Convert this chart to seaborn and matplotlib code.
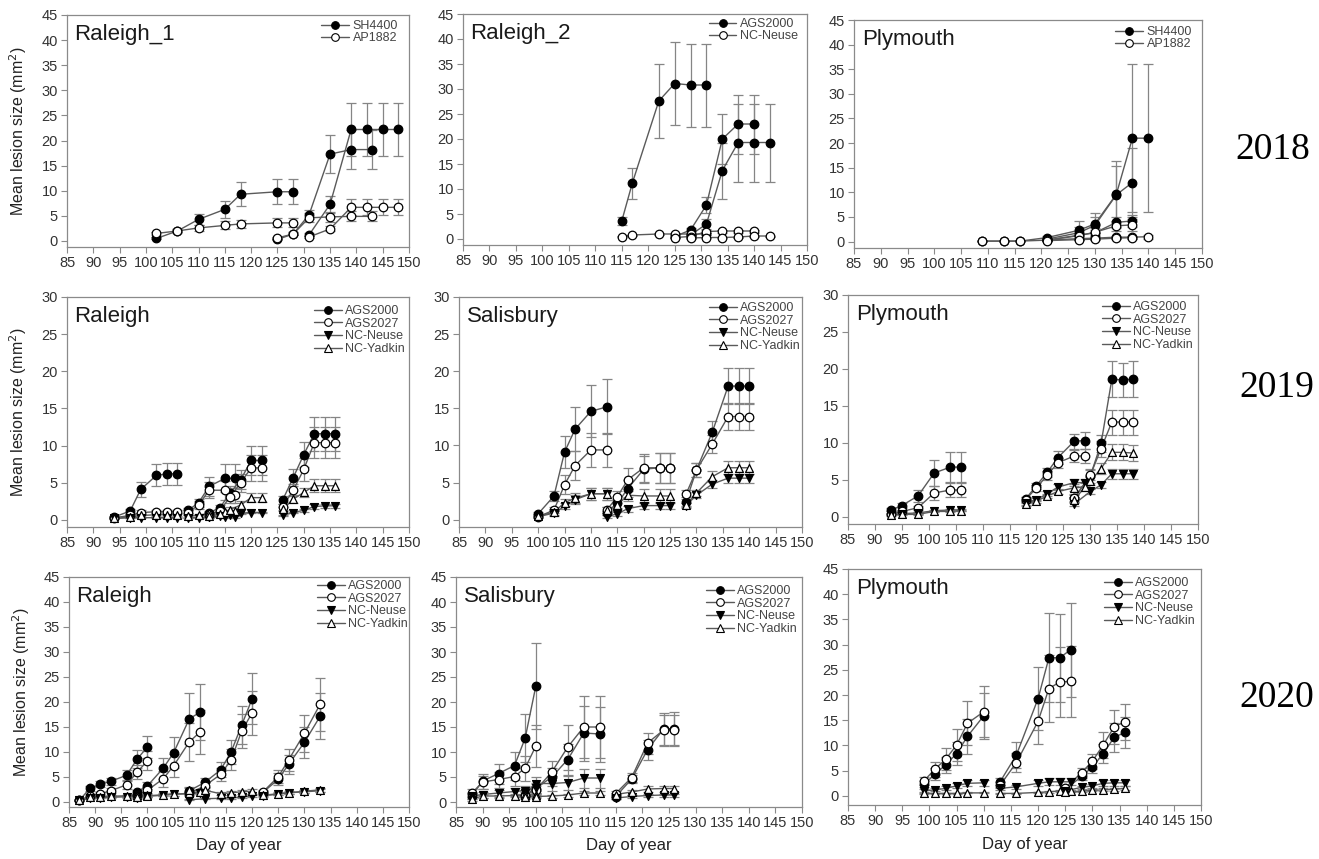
import matplotlib
matplotlib.use("Agg")
import numpy as np
import pandas as pd
import matplotlib.pyplot as plt
import seaborn as sns
from matplotlib.lines import Line2D

sns.set_theme(style="white")
plt.rcParams["font.family"] = ["Liberation Sans", "DejaVu Sans"]

# ---------------- DATA (each list holds one list per curve segment) ----------------
# 2018 Raleigh_1
r1_days = [[102, 106, 110, 115, 118, 125, 128], [125, 128, 131, 135, 139, 143], [131, 135, 139, 142, 145, 148]]
r1_sh4400 = [[0.5, 2.0, 4.3, 6.3, 9.3, 9.8, 9.8], [0.3, 1.4, 5.2, 17.3, 18.2, 18.2], [1.2, 7.3, 22.2, 22.2, 22.2, 22.2]]
r1_sh4400_se = [[0.2, 0.3, 1.1, 1.7, 2.4, 2.5, 2.5], [0.1, 0.3, 0.9, 3.8, 3.9, 3.9], [0.3, 1.7, 5.2, 5.2, 5.2, 5.2]]
r1_ap1882 = [[1.5, 2.0, 2.6, 3.1, 3.4, 3.6, 3.6], [0.6, 1.4, 4.6, 4.8, 4.9, 4.9], [0.8, 2.4, 6.7, 6.7, 6.7, 6.7]]
r1_ap1882_se = [[0.3, 0.4, 0.6, 0.8, 0.8, 0.9, 0.9], [0.2, 0.3, 0.9, 1.0, 1.0, 1.0], [0.2, 0.5, 1.6, 1.6, 1.6, 1.6]]

# 2018 Raleigh_2
r2_days = [[115, 117, 122, 125, 128, 131], [125, 128, 131, 134, 137, 140], [128, 131, 134, 137, 140, 143]]
r2_ags2000 = [[3.6, 11.2, 27.6, 31.1, 30.8, 30.8], [0.5, 1.8, 6.8, 20.0, 23.0, 23.0], [0.8, 3.0, 13.7, 19.3, 19.3, 19.3]]
r2_ags2000_se = [[0.8, 3.1, 7.4, 8.3, 8.3, 8.3], [0.2, 0.4, 1.6, 5.0, 5.9, 5.9], [0.2, 1.0, 5.6, 7.8, 7.8, 7.8]]
r2_neuse = [[0.5, 0.8, 1.0, 1.0, 1.0, 1.0], [0.3, 0.5, 1.5, 1.6, 1.6, 1.6], [0.2, 0.3, 0.3, 0.4, 0.6, 0.6]]
r2_neuse_se = [[0.1, 0.1, 0.2, 0.2, 0.2, 0.2], [0.1, 0.1, 0.3, 0.3, 0.3, 0.3], [0.1, 0.1, 0.1, 0.1, 0.1, 0.1]]

# 2018 Plymouth
p18_days = [[109, 113, 116, 121, 127, 130, 134, 137, 140], [121, 127, 130, 134, 137], [121, 127, 130, 134, 137]]
p18_sh4400 = [[0.1, 0.1, 0.1, 0.8, 2.3, 3.6, 9.6, 21.0, 21.0], [0.5, 1.8, 3.3, 9.5, 12.0], [0.3, 1.3, 1.8, 3.9, 4.2]]
p18_sh4400_se = [[0.05, 0.05, 0.05, 0.4, 1.8, 2.2, 6.8, 15.0, 15.0], [0.3, 1.2, 1.6, 5.9, 7.0], [0.1, 0.5, 0.6, 1.0, 1.2]]
p18_ap1882 = [[0.1, 0.1, 0.1, 0.3, 0.6, 0.7, 0.9, 0.9, 1.0], [0.3, 1.2, 1.9, 3.2, 3.4], [0.2, 0.4, 0.5, 0.7, 0.8]]
p18_ap1882_se = [[0.05, 0.05, 0.05, 0.1, 0.2, 0.3, 0.3, 0.3, 0.4], [0.1, 0.5, 0.8, 1.0, 1.2], [0.1, 0.1, 0.2, 0.2, 0.2]]

# 2019 Raleigh
r19_days = [[94, 97, 99, 102, 104, 106], [108, 110, 112, 115, 117], [112, 114, 116, 118, 120, 122], [126, 128, 130, 132, 134, 136]]
r19_ags2000 = [[0.4, 1.2, 4.1, 6.0, 6.2, 6.2], [1.3, 2.3, 4.5, 5.6, 5.6], [1.0, 1.6, 3.6, 5.4, 8.0, 8.0], [2.7, 5.7, 8.8, 11.6, 11.6, 11.6]]
r19_ags2000_se = [[0.1, 0.3, 1.0, 1.5, 1.5, 1.5], [0.3, 0.5, 1.3, 1.9, 1.9], [0.2, 0.4, 0.9, 1.3, 1.9, 1.9], [0.5, 1.1, 1.7, 2.3, 2.3, 2.3]]
r19_ags2027 = [[0.3, 0.6, 1.0, 1.1, 1.1, 1.1], [1.0, 2.0, 4.0, 4.0, 3.3], [0.7, 1.2, 3.1, 5.0, 7.0, 7.0], [1.8, 4.0, 6.8, 10.4, 10.4, 10.4]]
r19_ags2027_se = [[0.1, 0.2, 0.3, 0.3, 0.3, 0.3], [0.3, 0.5, 1.1, 1.3, 1.0], [0.2, 0.3, 0.8, 1.2, 1.7, 1.7], [0.4, 0.8, 1.5, 2.1, 2.1, 2.1]]
r19_neuse = [[0.2, 0.3, 0.3, 0.3, 0.3, 0.3], [0.3, 0.3, 0.4, 0.4, 0.4], [0.4, 0.5, 0.6, 0.9, 1.0, 1.0], [0.6, 1.0, 1.3, 1.8, 1.9, 1.9]]
r19_neuse_se = [[0.1, 0.1, 0.1, 0.1, 0.1, 0.1], [0.1, 0.1, 0.1, 0.1, 0.1], [0.1, 0.1, 0.1, 0.1, 0.1, 0.1], [0.1, 0.1, 0.2, 0.3, 0.3, 0.3]]
r19_yadkin = [[0.2, 0.4, 0.6, 0.7, 0.7, 0.7], [0.5, 0.6, 0.9, 1.1, 1.2], [0.5, 0.8, 1.4, 2.0, 3.0, 3.0], [1.5, 2.8, 3.7, 4.6, 4.6, 4.6]]
r19_yadkin_se = [[0.1, 0.1, 0.2, 0.2, 0.2, 0.2], [0.2, 0.2, 0.2, 0.2, 0.2], [0.1, 0.2, 0.4, 0.5, 0.6, 0.6], [0.3, 0.5, 0.6, 0.9, 0.9, 0.9]]

# 2019 Salisbury
s19_days = [[100, 103, 105, 107, 110, 113], [113, 115, 117, 120, 123, 125], [128, 130, 133, 136, 138, 140]]
s19_ags2000 = [[0.8, 3.2, 9.1, 12.2, 14.6, 15.2], [0.9, 2.2, 4.2, 6.8, 7.0, 7.0], [2.4, 6.7, 11.8, 18.0, 18.0, 18.0]]
s19_ags2000_se = [[0.2, 0.7, 2.2, 3.0, 3.5, 3.7], [0.3, 0.6, 1.1, 1.8, 2.0, 2.0], [0.6, 0.9, 1.5, 2.4, 2.4, 2.4]]
s19_ags2027 = [[0.4, 1.3, 4.7, 7.3, 9.4, 9.4], [1.3, 3.1, 5.4, 7.0, 7.0, 7.0], [3.4, 6.7, 10.2, 13.9, 13.9, 13.9]]
s19_ags2027_se = [[0.1, 0.4, 1.3, 1.9, 2.3, 2.3], [0.4, 0.8, 1.5, 1.9, 2.0, 2.0], [0.6, 0.9, 1.2, 1.8, 1.8, 1.8]]
s19_neuse = [[0.4, 0.9, 1.8, 2.7, 3.5, 3.5], [0.4, 0.8, 1.5, 1.9, 1.9, 1.9], [1.9, 3.3, 4.8, 5.6, 5.6, 5.6]]
s19_neuse_se = [[0.1, 0.3, 0.4, 0.6, 0.8, 0.8], [0.2, 0.3, 0.4, 0.5, 0.5, 0.5], [0.3, 0.4, 0.5, 0.6, 0.6, 0.6]]
s19_yadkin = [[0.5, 1.0, 2.3, 2.9, 3.5, 3.5], [1.3, 2.0, 3.3, 3.2, 3.2, 3.2], [2.0, 3.6, 5.8, 7.0, 7.0, 7.0]]
s19_yadkin_se = [[0.3, 0.5, 0.5, 0.7, 0.8, 0.8], [0.4, 0.6, 0.8, 0.9, 0.9, 0.9], [0.3, 0.4, 0.7, 0.9, 0.9, 0.9]]

# 2019 Plymouth
p19_days = [[93, 95, 98, 101, 104, 106], [118, 120, 122, 124, 127, 129], [127, 130, 132, 134, 136, 138]]
p19_ags2000 = [[0.9, 1.5, 2.8, 5.9, 6.7, 6.7], [2.4, 4.2, 6.0, 8.0, 10.2, 10.3], [2.5, 5.5, 9.9, 18.6, 18.5, 18.6]]
p19_ags2000_se = [[0.2, 0.3, 0.8, 1.7, 2.0, 2.0], [0.3, 0.4, 0.6, 0.9, 1.0, 1.1], [0.5, 0.9, 1.2, 2.4, 2.3, 2.4]]
p19_ags2027 = [[0.4, 0.7, 1.2, 3.2, 3.6, 3.6], [2.3, 3.9, 5.6, 7.3, 8.2, 8.2], [2.5, 5.6, 9.2, 12.8, 12.8, 12.8]]
p19_ags2027_se = [[0.1, 0.2, 0.3, 0.9, 1.0, 1.0], [0.3, 0.4, 0.6, 0.7, 0.8, 0.9], [0.4, 0.7, 1.1, 1.7, 1.7, 1.7]]
p19_neuse = [[0.3, 0.4, 0.5, 0.8, 0.9, 0.9], [1.8, 2.3, 3.1, 4.0, 4.6, 4.6], [1.7, 3.4, 4.3, 5.8, 5.8, 5.8]]
p19_neuse_se = [[0.1, 0.1, 0.1, 0.1, 0.1, 0.1], [0.2, 0.2, 0.3, 0.4, 0.5, 0.5], [0.2, 0.3, 0.4, 0.7, 0.7, 0.7]]
p19_yadkin = [[0.2, 0.3, 0.3, 0.7, 0.7, 0.8], [1.7, 2.1, 2.8, 3.4, 3.9, 4.0], [2.3, 4.8, 6.5, 8.7, 8.7, 8.6]]
p19_yadkin_se = [[0.1, 0.1, 0.1, 0.1, 0.1, 0.1], [0.2, 0.2, 0.3, 0.4, 0.5, 0.5], [0.3, 0.5, 0.7, 1.1, 1.1, 1.1]]

# 2020 Raleigh
r20_days = [[87, 89, 91, 93, 96, 98, 100], [98, 100, 103, 105, 108, 110], [108, 111, 114, 116, 118, 120], [122, 125, 127, 130, 133]]
r20_ags2000 = [[0.3, 2.7, 3.5, 4.1, 5.3, 8.5, 11.0], [2.0, 3.2, 6.7, 9.8, 16.6, 17.9], [2.2, 3.9, 6.4, 10.0, 15.3, 20.6], [1.8, 4.5, 7.5, 11.9, 17.1]]
r20_ags2000_se = [[0.1, 0.5, 0.6, 0.7, 1.0, 1.8, 2.2], [0.4, 0.7, 2.1, 3.1, 5.1, 5.6], [0.6, 0.9, 1.5, 2.4, 3.8, 5.1], [0.4, 1.2, 1.9, 3.1, 4.6]]
r20_ags2027 = [[0.3, 1.2, 1.6, 2.2, 3.4, 5.9, 8.2], [1.3, 2.3, 4.6, 7.2, 12.0, 13.9], [1.7, 3.2, 5.5, 8.4, 14.1, 17.8], [1.9, 5.0, 8.4, 13.7, 19.5]]
r20_ags2027_se = [[0.1, 0.3, 0.4, 0.5, 0.8, 1.4, 1.9], [0.3, 0.6, 1.6, 2.3, 3.8, 4.4], [0.5, 0.8, 1.3, 2.1, 3.4, 4.4], [0.4, 1.3, 2.2, 3.7, 5.3]]
r20_neuse = [[0.3, 0.7, 0.8, 0.9, 1.0, 1.1, 1.2], [0.8, 1.1, 1.3, 1.5, 1.6, 1.8], [0.4, 0.6, 0.7, 0.8, 0.9, 1.2], [1.2, 1.5, 1.8, 2.0, 2.2]]
r20_neuse_se = [[0.1, 0.1, 0.1, 0.2, 0.2, 0.2, 0.2], [0.2, 0.2, 0.2, 0.3, 0.3, 0.3], [0.1, 0.1, 0.1, 0.2, 0.2, 0.2], [0.2, 0.2, 0.2, 0.3, 0.3]]
r20_yadkin = [[0.3, 0.9, 1.0, 1.1, 1.2, 1.3, 1.3], [0.9, 1.2, 1.4, 1.5, 1.7, 1.9], [2.3, 2.3, 1.6, 1.8, 2.0, 2.1], [1.3, 1.6, 1.8, 2.1, 2.4]]
r20_yadkin_se = [[0.1, 0.2, 0.2, 0.2, 0.2, 0.3, 0.3], [0.2, 0.2, 0.3, 0.3, 0.3, 0.3], [0.6, 0.5, 0.3, 0.4, 0.4, 0.5], [0.2, 0.3, 0.3, 0.3, 0.4]]

# 2020 Salisbury
s20_days = [[88, 90, 93, 96, 98, 100], [98, 100, 103, 106, 109, 112], [115, 118, 121, 124, 126]]
s20_ags2000 = [[1.3, 4.2, 5.7, 7.3, 12.8, 23.2], [1.5, 2.7, 5.0, 8.5, 13.8, 13.6], [1.1, 4.6, 10.5, 14.6, 14.7]]
s20_ags2000_se = [[0.6, 1.5, 2.0, 2.8, 4.8, 8.6], [0.5, 0.9, 1.8, 3.2, 5.5, 5.5], [0.4, 0.8, 2.0, 3.2, 3.3]]
s20_ags2027 = [[1.8, 4.0, 4.5, 5.1, 6.8, 11.2], [1.3, 2.4, 6.0, 11.0, 15.0, 15.0], [1.7, 4.9, 11.8, 14.4, 14.4]]
s20_ags2027_se = [[0.8, 1.3, 1.6, 1.8, 2.5, 4.2], [0.4, 0.8, 2.2, 4.5, 6.2, 6.2], [0.5, 0.9, 2.1, 3.1, 3.1]]
s20_neuse = [[1.2, 1.5, 1.8, 2.1, 2.3, 2.8], [1.8, 3.7, 3.7, 3.9, 4.8, 4.8], [0.8, 1.1, 1.3, 1.4, 1.4]]
s20_neuse_se = [[0.5, 0.6, 0.7, 0.8, 0.9, 1.0], [0.6, 1.4, 1.5, 1.5, 1.9, 1.9], [0.2, 0.3, 0.3, 0.3, 0.3]]
s20_yadkin = [[0.6, 1.2, 1.2, 1.3, 1.4, 1.4], [1.0, 1.1, 1.2, 1.4, 1.8, 1.8], [1.5, 2.0, 2.6, 2.7, 2.7]]
s20_yadkin_se = [[0.3, 0.3, 0.3, 0.3, 0.3, 0.3], [0.3, 0.3, 0.3, 0.3, 0.4, 0.4], [0.4, 0.5, 0.6, 0.6, 0.6]]

# 2020 Plymouth
p20_days = [[99, 101, 103, 105, 107, 110], [113, 116, 120, 122, 124, 126], [125, 128, 130, 132, 134, 136]]
p20_ags2000 = [[2.3, 4.3, 6.2, 8.4, 11.8, 15.9], [2.8, 8.1, 19.3, 27.4, 27.4, 29.0], [1.2, 3.9, 5.7, 8.4, 11.6, 12.6]]
p20_ags2000_se = [[0.6, 1.2, 1.6, 2.2, 3.4, 4.6], [0.7, 2.5, 6.2, 8.8, 8.7, 9.3], [0.3, 0.8, 1.2, 1.8, 2.9, 3.1]]
p20_ags2027 = [[3.0, 5.3, 7.3, 10.1, 14.4, 16.7], [2.1, 6.6, 14.8, 21.3, 22.6, 22.7], [1.6, 4.6, 6.9, 10.1, 13.7, 14.7]]
p20_ags2027_se = [[0.8, 1.5, 2.2, 3.1, 4.4, 5.1], [0.6, 1.9, 4.6, 6.6, 7.0, 7.0], [0.4, 1.0, 1.5, 2.5, 3.4, 3.6]]
p20_neuse = [[1.0, 1.2, 1.5, 2.0, 2.5, 2.6], [1.5, 1.8, 2.5, 2.8, 2.8, 2.8], [1.0, 1.7, 2.0, 2.5, 2.6, 2.6]]
p20_neuse_se = [[0.3, 0.3, 0.4, 0.5, 0.6, 0.6], [0.3, 0.4, 0.6, 0.7, 0.7, 0.7], [0.2, 0.3, 0.4, 0.6, 0.6, 0.6]]
p20_yadkin = [[0.5, 0.5, 0.5, 0.5, 0.6, 0.6], [0.5, 0.5, 0.7, 0.8, 1.0, 1.0], [0.7, 0.9, 1.1, 1.2, 1.3, 1.5]]
p20_yadkin_se = [[0.1, 0.1, 0.1, 0.1, 0.1, 0.1], [0.1, 0.1, 0.1, 0.2, 0.2, 0.2], [0.2, 0.2, 0.2, 0.3, 0.3, 0.4]]

panel_titles = ["Raleigh_1", "Raleigh_2", "Plymouth", "Raleigh", "Salisbury", "Plymouth",
                "Raleigh", "Salisbury", "Plymouth"]
year_labels = ["2018", "2019", "2020"]
x_ticks = list(range(85, 151, 5))

# ---------------- STYLE ----------------
MARKERS = {"SH4400": ("o", "black"), "AP1882": ("o", "white"),
           "AGS2000": ("o", "black"), "AGS2027": ("o", "white"),
           "NC-Neuse": ("v", "black"), "NC-Yadkin": ("^", "white")}
# Raleigh_2 (2018) draws NC-Neuse with open circles
PANEL_MARKERS = {1: {"NC-Neuse": ("o", "white")}}
LINE_C = "#5a5a5a"
ERR_C = "#858585"
SPINE_C = "#8a8a8a"


def make_df(days, series):
    rows = []
    for name, (vals, ses) in series.items():
        for si, (d, v, e) in enumerate(zip(days, vals, ses)):
            for dd, vv, ee in zip(d, v, e):
                rows.append({"cultivar": name, "segment": si, "day": dd, "lesion": vv, "se": ee})
    return pd.DataFrame(rows)


panels = [
    (r1_days, {"SH4400": (r1_sh4400, r1_sh4400_se), "AP1882": (r1_ap1882, r1_ap1882_se)}),
    (r2_days, {"AGS2000": (r2_ags2000, r2_ags2000_se), "NC-Neuse": (r2_neuse, r2_neuse_se)}),
    (p18_days, {"SH4400": (p18_sh4400, p18_sh4400_se), "AP1882": (p18_ap1882, p18_ap1882_se)}),
    (r19_days, {"AGS2000": (r19_ags2000, r19_ags2000_se), "AGS2027": (r19_ags2027, r19_ags2027_se),
                "NC-Neuse": (r19_neuse, r19_neuse_se), "NC-Yadkin": (r19_yadkin, r19_yadkin_se)}),
    (s19_days, {"AGS2000": (s19_ags2000, s19_ags2000_se), "AGS2027": (s19_ags2027, s19_ags2027_se),
                "NC-Neuse": (s19_neuse, s19_neuse_se), "NC-Yadkin": (s19_yadkin, s19_yadkin_se)}),
    (p19_days, {"AGS2000": (p19_ags2000, p19_ags2000_se), "AGS2027": (p19_ags2027, p19_ags2027_se),
                "NC-Neuse": (p19_neuse, p19_neuse_se), "NC-Yadkin": (p19_yadkin, p19_yadkin_se)}),
    (r20_days, {"AGS2000": (r20_ags2000, r20_ags2000_se), "AGS2027": (r20_ags2027, r20_ags2027_se),
                "NC-Neuse": (r20_neuse, r20_neuse_se), "NC-Yadkin": (r20_yadkin, r20_yadkin_se)}),
    (s20_days, {"AGS2000": (s20_ags2000, s20_ags2000_se), "AGS2027": (s20_ags2027, s20_ags2027_se),
                "NC-Neuse": (s20_neuse, s20_neuse_se), "NC-Yadkin": (s20_yadkin, s20_yadkin_se)}),
    (p20_days, {"AGS2000": (p20_ags2000, p20_ags2000_se), "AGS2027": (p20_ags2027, p20_ags2027_se),
                "NC-Neuse": (p20_neuse, p20_neuse_se), "NC-Yadkin": (p20_yadkin, p20_yadkin_se)}),
]

# axes boxes in pixels: x0, y0, x1, y1, ymin, ymax ; legend (right offset px, first-row center px)
W, H = 1319, 859
boxes = [
    (67, 15, 409, 247, -1.2, 45, 11, 12),
    (463, 14, 807, 245, -1.2, 45, 9, 11),
    (854, 20, 1202, 248, -1.3, 45, 10, 13),
    (67, 297, 409, 527, -0.95, 30, 4, 15),
    (459, 297, 802, 527, -0.98, 30, 2, 12),
    (848, 295, 1198, 524, -1.0, 30, 5, 13),
    (69, 577, 409, 807, -1.05, 45, 1, 10),
    (456, 577, 802, 807, -1.0, 45, 5, 15),
    (848, 569, 1201, 805, -1.8, 45, 6, 15),
]

fig = plt.figure(figsize=(W / 100, H / 100), dpi=100)
fig.patch.set_facecolor("white")

for i, ((days, series), box, title) in enumerate(zip(panels, boxes, panel_titles)):
    x0, y0, x1, y1, ymin, ymax, rc, fc = box
    ax = fig.add_axes([x0 / W, 1 - y1 / H, (x1 - x0) / W, (y1 - y0) / H])
    df = make_df(days, series)
    names = list(series.keys())
    mk_map = dict(MARKERS)
    mk_map.update(PANEL_MARKERS.get(i, {}))

    # error bars
    for name in names:
        sub = df[df.cultivar == name]
        ax.errorbar(sub["day"], sub["lesion"], yerr=sub["se"], fmt="none", ecolor=ERR_C,
                    elinewidth=0.9, capsize=3.4, capthick=0.9, zorder=2)
    # connecting lines
    sns.lineplot(data=df, x="day", y="lesion", hue="cultivar", units="segment", estimator=None,
                 palette={n: LINE_C for n in names}, legend=False, ax=ax, linewidth=1.0,
                 zorder=3, sort=True)
    # markers
    for name in names:
        mk, face = mk_map[name]
        sns.scatterplot(data=df[df.cultivar == name], x="day", y="lesion", marker=mk,
                        s=38 if mk == "o" else 32, color=face, edgecolor="black", linewidth=0.9,
                        ax=ax, zorder=4, legend=False)

    ax.set_xlim(85, 150)
    ax.set_ylim(ymin, ymax)
    ax.set_xticks(x_ticks)
    ax.set_yticks(list(range(0, int(ymax) + 1, 5)))
    ax.tick_params(axis="both", direction="out", length=4, width=0.8, color=SPINE_C,
                   labelsize=10.5, labelcolor="#333333", pad=2.5, bottom=True, left=True)
    for sp in ax.spines.values():
        sp.set_color(SPINE_C)
        sp.set_linewidth(0.9)
    ax.grid(False)
    ax.set_facecolor("white")

    ax.set_xlabel("")
    ax.set_ylabel("")
    if i % 3 == 0:
        ax.set_ylabel("Mean lesion size (mm$^2$)", fontsize=11.5, color="#222222")
        ax.yaxis.set_label_coords(-0.11, 0.5)
    if i >= 6:
        ax.set_xlabel("Day of year", fontsize=12, color="#222222")
        ax.xaxis.set_label_coords(0.5, -0.135)

    ax.text(0.022, 1 - 19.5 / (y1 - y0), title, transform=ax.transAxes, fontsize=16,
            color="#1a1a1a", ha="left", va="center")

    handles = []
    for name in names:
        mk, face = mk_map[name]
        handles.append(Line2D([0], [0], color=LINE_C, lw=1.0, marker=mk, markersize=5.5,
                              markerfacecolor=face, markeredgecolor="black", markeredgewidth=0.8))
    leg = ax.legend(handles, names, loc="upper right",
                    bbox_to_anchor=(1 - rc / (x1 - x0), 1 - (fc - 7) / (y1 - y0)),
                    frameon=False, fontsize=9, handlelength=2.2, handletextpad=0.3,
                    labelspacing=0.05 if len(names) == 4 else 0.0, borderpad=0, borderaxespad=0)
    for t in leg.get_texts():
        t.set_color("#444444")

year_pos = [(1273, 150), (1277, 388), (1277, 698)]
for lab, (xp, yp) in zip(year_labels, year_pos):
    fig.text(xp / W, 1 - yp / H, lab, fontsize=27, family=["Liberation Serif", "DejaVu Serif"],
             ha="center", va="center", color="black")

fig.savefig("out.png", dpi=100, facecolor="white")
